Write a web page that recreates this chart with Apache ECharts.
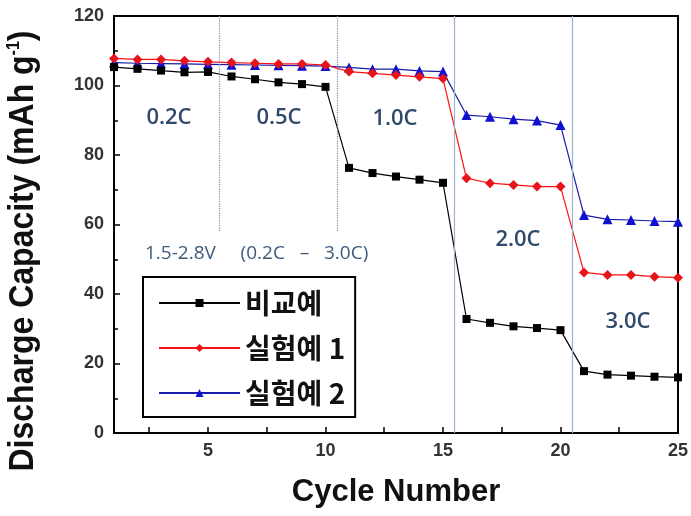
<!DOCTYPE html>
<html>
<head>
    <meta charset="utf-8">
    <style>
        html, body {
            height: 100%;
        }

        * {
            margin: 0;
            padding: 0;
        }

        #container {
            width: 691px;
            height: 516px;
            background: #fff;
        }
    </style>
</head>
<body>
<div id="container"></div>
<script type="text/javascript" src="https://cdn.jsdelivr.net/npm/echarts@6/dist/echarts.min.js"></script>
<script type="text/javascript">
    // cycle numbers and discharge capacity (mAh/g)
    let cycles = [1, 2, 3, 4, 5, 6, 7, 8, 9, 10, 11, 12, 13, 14, 15, 16, 17, 18, 19, 20, 21, 22, 23, 24, 25];
    let compare = [105.3, 104.8, 104.3, 103.8, 103.9, 102.6, 101.8, 100.9, 100.4, 99.6,
        76.3, 74.8, 73.8, 72.9, 72.0, 32.8, 31.7, 30.7, 30.2, 29.6, 17.8, 16.8, 16.5, 16.2, 16.0];
    let exp1 = [107.8, 107.5, 107.5, 107.1, 106.8, 106.6, 106.4, 106.2, 106.2, 105.9,
        104.0, 103.5, 103.0, 102.5, 102.0, 73.3, 71.9, 71.4, 70.9, 70.9, 46.2, 45.5, 45.5, 45.0, 44.7];
    let exp2 = [106.6, 106.4, 106.3, 106.2, 106.1, 106.0, 105.9, 105.8, 105.7, 105.6,
        105.2, 104.7, 104.7, 104.2, 104.0, 91.5, 91.0, 90.3, 89.9, 88.6, 62.7, 61.5, 61.3, 61.0, 60.8];
    let seriesNames = ['비교예', '실험예 1', '실험예 2'];
    let xLabels = [5, 10, 15, 20, 25];
    let xTicks = [2.5, 5, 7.5, 10, 12.5, 15, 17.5, 20, 22.5, 25];
    let rateBounds = [5.5, 10.5, 15.5, 20.5];

    let dom = document.getElementById("container");
    let myChart = echarts.init(dom);

    function pairs(ys) {
        return ys.map(function (y, i) {
            return [cycles[i], y];
        });
    }

    let boldLabel = {
        fontFamily: 'Liberation Sans',
        fontWeight: 'bold',
        fontSize: 18,
        color: '#333'
    };
    let rateText = {
        fontFamily: 'Open Sans',
        fontWeight: 600,
        fontSize: 22,
        fill: '#2f4a6b',
        align: 'center',
        verticalAlign: 'middle'
    };

    let option = {
        animation: false,
        backgroundColor: '#fff',
        grid: {
            left: 114,
            right: 13,
            top: 16,
            bottom: 83,
            show: true,
            borderColor: '#000',
            borderWidth: 2
        },
        legend: {
            orient: 'vertical',
            left: 143,
            top: 277,
            itemWidth: 81,
            itemHeight: 10,
            itemGap: 17,
            padding: [12, 10, 10, 15],
            borderColor: '#000',
            borderWidth: 2,
            backgroundColor: '#fff',
            textStyle: {
                fontFamily: 'Noto Sans CJK KR',
                fontWeight: 'bold',
                fontSize: 28,
                color: '#111'
            },
            data: seriesNames
        },
        xAxis: {
            type: 'value',
            min: 1,
            max: 25,
            name: 'Cycle Number',
            nameLocation: 'middle',
            nameGap: 44,
            nameTextStyle: {
                fontFamily: 'Liberation Sans',
                fontWeight: 'bold',
                fontSize: 31,
                color: '#111'
            },
            splitLine: {show: false},
            axisLine: {lineStyle: {color: '#000', width: 2}},
            axisTick: {
                inside: true,
                length: 6,
                customValues: xTicks,
                lineStyle: {color: '#000', width: 1.5}
            },
            axisLabel: Object.assign({margin: 9, customValues: xLabels}, boldLabel)
        },
        yAxis: {
            type: 'value',
            min: 0,
            max: 120,
            interval: 20,
            splitLine: {show: false},
            axisLine: {show: true, lineStyle: {color: '#000', width: 2}},
            axisTick: {inside: true, length: 6, lineStyle: {color: '#000', width: 1.5}},
            minorTick: {show: true, splitNumber: 2, length: 4, lineStyle: {color: '#000', width: 1.5}},
            axisLabel: Object.assign({margin: 10}, boldLabel)
        },
        graphic: [
            {
                type: 'text',
                x: 23,
                y: 251,
                rotation: Math.PI / 2,
                scaleY: 1.12,
                style: {
                    text: '{n|Discharge Capacity (mAh g}{s|-1}{n|)}',
                    align: 'center',
                    verticalAlign: 'middle',
                    rich: {
                        n: {fontFamily: 'Liberation Sans', fontWeight: 'bold', fontSize: 32, fill: '#111'},
                        s: {fontFamily: 'Liberation Sans', fontWeight: 'bold', fontSize: 16, fill: '#111', verticalAlign: 'top', padding: [0, 0, 14, 0]}
                    }
                }
            },
            {type: 'text', x: 169, y: 118, style: Object.assign({text: '0.2C'}, rateText)},
            {type: 'text', x: 279, y: 118, style: Object.assign({text: '0.5C'}, rateText)},
            {type: 'text', x: 395, y: 119, style: Object.assign({text: '1.0C'}, rateText)},
            {type: 'text', x: 518, y: 240, style: Object.assign({text: '2.0C'}, rateText)},
            {type: 'text', x: 628, y: 322, style: Object.assign({text: '3.0C'}, rateText)},
            {
                type: 'text',
                x: 145,
                y: 254,
                style: {
                    text: '1.5-2.8V     (0.2C   –   3.0C)',
                    verticalAlign: 'middle',
                    fontFamily: 'Open Sans',
                    fontSize: 19,
                    fill: '#3d5b7b'
                }
            }
        ],
        series: [
            {
                name: seriesNames[0],
                type: 'line',
                data: pairs(compare),
                symbol: 'rect',
                symbolSize: 8,
                itemStyle: {color: '#000'},
                lineStyle: {color: '#000', width: 1.2},
                z: 4,
                markLine: {
                    silent: true,
                    symbol: 'none',
                    label: {show: false},
                    data: [
                        [{coord: [rateBounds[0], 120], lineStyle: {type: 'dotted', color: '#6f8fb0', width: 1.2}}, {coord: [rateBounds[0], 58]}],
                        [{coord: [rateBounds[1], 120], lineStyle: {type: 'dotted', color: '#6f8fb0', width: 1.2}}, {coord: [rateBounds[1], 58]}],
                        [{coord: [rateBounds[2], 120], lineStyle: {type: 'solid', color: '#9db3c8', width: 1.2}}, {coord: [rateBounds[2], 0]}],
                        [{coord: [rateBounds[3], 120], lineStyle: {type: 'solid', color: '#9db3c8', width: 1.2}}, {coord: [rateBounds[3], 0]}]
                    ]
                }
            },
            {
                name: seriesNames[1],
                type: 'line',
                data: pairs(exp1),
                symbol: 'diamond',
                symbolSize: 10,
                itemStyle: {color: '#e8141a'},
                lineStyle: {color: '#ff1010', width: 1.2},
                z: 3
            },
            {
                name: seriesNames[2],
                type: 'line',
                data: pairs(exp2),
                symbol: 'triangle',
                symbolSize: 10,
                itemStyle: {color: '#1010d0'},
                lineStyle: {color: '#1a1aa8', width: 1.2},
                z: 2
            }
        ]
    };
    myChart.setOption(option, true);
</script>
</body>
</html>
